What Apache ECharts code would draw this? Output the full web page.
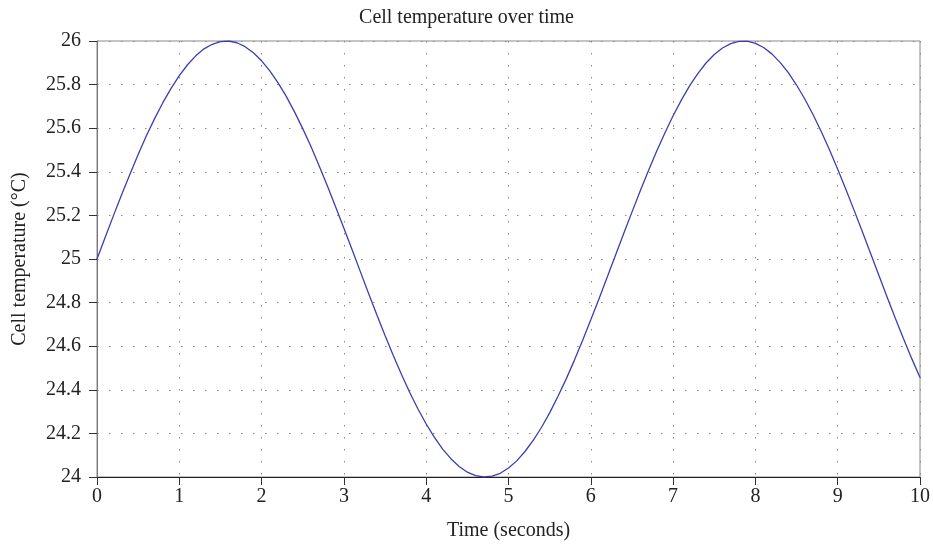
<!DOCTYPE html>
<html><head><meta charset="utf-8">
<script src="https://cdn.jsdelivr.net/npm/echarts@6/dist/echarts.min.js"></script>
<style>html,body{margin:0;padding:0;background:#fff}#c{width:933px;height:546px}</style>
</head><body><div id="c"></div>
<script>
const timeSeconds = [0,0.1,0.2,0.3,0.4,0.5,0.6,0.7,0.8,0.9,1,1.1,1.2,1.3,1.4,1.5,1.6,1.7,1.8,1.9,2,2.1,2.2,2.3,2.4,2.5,2.6,2.7,2.8,2.9,3,3.1,3.2,3.3,3.4,3.5,3.6,3.7,3.8,3.9,4,4.1,4.2,4.3,4.4,4.5,4.6,4.7,4.8,4.9,5,5.1,5.2,5.3,5.4,5.5,5.6,5.7,5.8,5.9,6,6.1,6.2,6.3,6.4,6.5,6.6,6.7,6.8,6.9,7,7.1,7.2,7.3,7.4,7.5,7.6,7.7,7.8,7.9,8,8.1,8.2,8.3,8.4,8.5,8.6,8.7,8.8,8.9,9,9.1,9.2,9.3,9.4,9.5,9.6,9.7,9.8,9.9,10];
const cellTemperature = [
25.000,25.100,25.199,25.296,25.389,25.479,25.565,25.644,25.717,25.783,
25.841,25.891,25.932,25.964,25.985,25.997,26.000,25.992,25.974,25.946,
25.909,25.863,25.808,25.746,25.675,25.598,25.516,25.427,25.335,25.239,
25.141,25.042,24.942,24.842,24.744,24.649,24.557,24.470,24.388,24.312,
24.243,24.182,24.128,24.084,24.048,24.022,24.006,24.000,24.004,24.017,
24.041,24.074,24.117,24.168,24.227,24.294,24.369,24.449,24.535,24.626,
24.721,24.818,24.917,25.017,25.117,25.215,25.312,25.405,25.494,25.578,
25.657,25.729,25.794,25.850,25.899,25.938,25.968,25.988,25.998,25.999,
25.989,25.970,25.941,25.902,25.855,25.798,25.734,25.663,25.585,25.501,
25.412,25.319,25.223,25.125,25.025,24.925,24.826,24.728,24.634,24.543,
24.456];
const titleText = 'Cell temperature over time';
const xName = 'Time (seconds)';
const yName = 'Cell temperature (°C)';

const font = 'Liberation Serif';
const fs = 20;
const chart = echarts.init(document.getElementById('c'));
chart.setOption({
  animation: false,
  title: {text: titleText, left: 'center', top: 3, textStyle: {fontFamily: font, fontSize: fs, fontWeight: 'normal', color: '#222'}},
  grid: {left: 97, right: 8, top: 41, bottom: 69, show: true, borderColor: '#888', borderWidth: 1},
  xAxis: {
    type: 'value', min: 0, max: 10, interval: 1,
    name: xName, nameLocation: 'middle', nameGap: 44,
    nameTextStyle: {fontFamily: font, fontSize: fs, color: '#222'},
    axisLine: {lineStyle: {color: '#222', width: 1}},
    axisTick: {show: true, length: 8, lineStyle: {color: '#333'}},
    axisLabel: {fontFamily: font, fontSize: fs, color: '#222', margin: 10},
    splitLine: {show: true, lineStyle: {color: '#888', type: [1.5, 10.5], width: 1}}
  },
  yAxis: {
    type: 'value', min: 24, max: 26, interval: 0.2,
    name: yName, nameLocation: 'middle', nameGap: 67, nameRotate: 90,
    nameTextStyle: {fontFamily: font, fontSize: fs, color: '#222'},
    axisLine: {show: true, lineStyle: {color: '#777', width: 1}},
    axisTick: {show: true, length: 8, lineStyle: {color: '#333'}},
    axisLabel: {fontFamily: font, fontSize: fs, color: '#222', margin: 16},
    splitLine: {show: true, lineStyle: {color: '#888', type: [1.5, 10.5], width: 1}}
  },
  series: [{
    type: 'line', data: timeSeconds.map((t, i) => [t, cellTemperature[i]]),
    smooth: false, showSymbol: false,
    lineStyle: {color: '#3b3fae', width: 1.3}
  }]
});
</script></body></html>
